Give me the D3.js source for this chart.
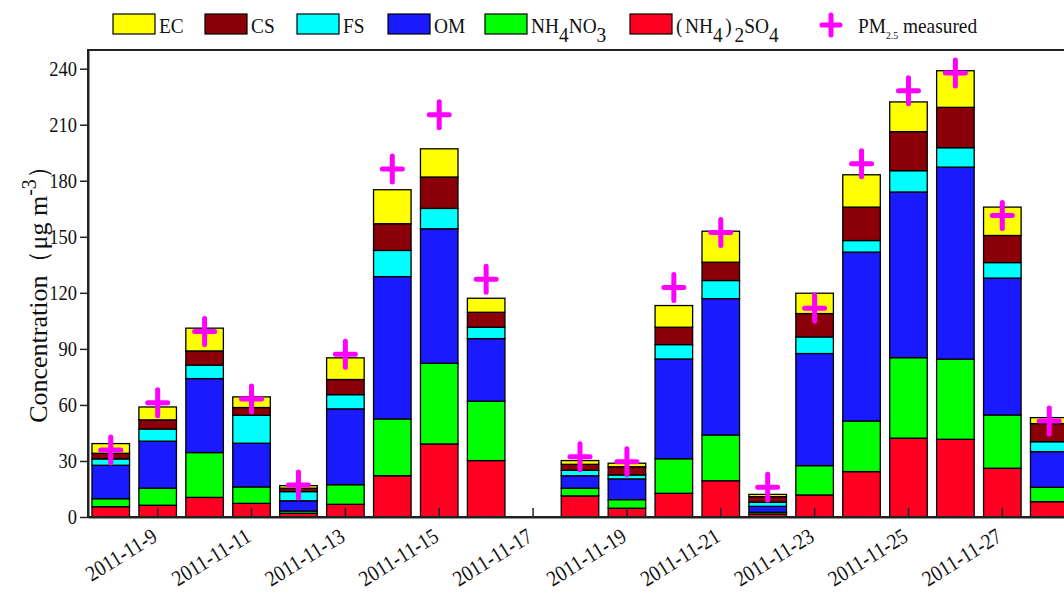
<!DOCTYPE html>
<html>
<head>
<meta charset="utf-8">
<script src="https://cdn.jsdelivr.net/npm/d3@7"></script>
<style>
  html, body { margin: 0; padding: 0; background: #fff; }
  svg { display: block; font-family: "Liberation Serif", "DejaVu Serif", serif; }
</style>
</head>
<body>
<script>
// ---------------- DATA ----------------
const dates = ["2011-11-8","2011-11-9","2011-11-10","2011-11-11","2011-11-12","2011-11-13","2011-11-14",
  "2011-11-15","2011-11-16","2011-11-17","2011-11-18","2011-11-19","2011-11-20","2011-11-21",
  "2011-11-22","2011-11-23","2011-11-24","2011-11-25","2011-11-26","2011-11-27","2011-11-28"];
const tickDates = ["2011-11-9","2011-11-11","2011-11-13","2011-11-15","2011-11-17","2011-11-19",
  "2011-11-21","2011-11-23","2011-11-25","2011-11-27"];
const yTicks = [0, 30, 60, 90, 120, 150, 180, 210, 240];

// component concentrations (µg m-3), bottom to top
const so4   = [5.5, 6.3, 10.5, 7.3, 2.0, 6.8, 22.1, 39.1, 30.2, 0, 11.3, 4.7, 12.7, 19.4, 1.6, 11.8, 24.3, 42.2, 41.6, 26.1, 8.2];
const nh4no3= [4.3, 9.1, 24.0, 8.8, 1.2, 10.5, 30.4, 43.2, 31.8, 0, 4.1, 4.6, 18.5, 24.5, 0.9, 15.7, 27.1, 43.1, 42.9, 28.5, 7.7];
const om    = [17.9, 25.2, 39.6, 23.4, 5.5, 40.6, 76.2, 72.0, 33.5, 0, 6.7, 11.1, 53.4, 73.0, 3.2, 60.0, 90.4, 88.7, 102.8, 73.3, 19.1];
const fs    = [3.4, 6.5, 7.2, 15.0, 4.9, 7.6, 14.0, 10.9, 6.1, 0, 2.9, 2.1, 7.7, 9.7, 2.2, 8.9, 6.2, 11.4, 10.4, 8.3, 5.3];
const cs    = [3.0, 4.9, 7.6, 4.1, 1.8, 8.1, 14.3, 16.8, 8.0, 0, 3.2, 4.4, 9.3, 9.8, 3.0, 12.5, 17.9, 20.9, 21.6, 14.5, 9.7];
const ec    = [5.2, 6.9, 12.2, 5.7, 1.4, 11.6, 18.2, 15.1, 7.5, 0, 2.0, 1.9, 11.6, 16.6, 1.2, 10.9, 17.3, 15.9, 19.6, 15.2, 3.2];
const pmMeasured = [35.9, 61.2, 99.3, 63.2, 17.1, 87.1, 186.3, 215.4, 127.3, null, 32.3, 29.6, 122.8, 152.3, 15.9, 111.8, 189.1, 228.2, 237.7, 161.4, 51.4];

const seriesKeys = ["so4", "nh4no3", "om", "fs", "cs", "ec"];
const seriesColors = { so4: "#ff0022", nh4no3: "#00ff00", om: "#1a1aff", fs: "#00ffff", cs: "#8b0008", ec: "#ffff00" };

// ---------------- LAYOUT ----------------
const W = 1064, H = 597;
const plotL = 88, plotR = 1072, plotT = 50, plotB = 517;
const FONT = "Liberation Serif, DejaVu Serif, serif";
const SQUEEZE = 0.88; // the original typeface is narrow

const svg = d3.select("body").append("svg").attr("width", W).attr("height", H);

const table = dates.map((d, i) => ({ date: d, so4: so4[i], nh4no3: nh4no3[i], om: om[i], fs: fs[i], cs: cs[i], ec: ec[i], pm: pmMeasured[i] }));
const stacked = d3.stack().keys(seriesKeys)(table);

const x = d3.scaleBand().domain(dates).range([plotL, plotR]).paddingInner(0.2).paddingOuter(0.085);
const y = d3.scaleLinear().domain([0, 250]).range([plotB, plotT]);

// bars
const gBars = svg.append("g");
stacked.forEach(layer => {
  gBars.append("g").selectAll("rect")
    .data(layer.filter(d => d[1] - d[0] > 0))
    .join("rect")
    .attr("x", d => x(d.data.date))
    .attr("width", x.bandwidth())
    .attr("y", d => y(d[1]))
    .attr("height", d => y(d[0]) - y(d[1]))
    .attr("fill", seriesColors[layer.key])
    .attr("stroke", "#000")
    .attr("stroke-width", 1.3);
});

// measured PM2.5 plus markers
const plusPath = (cx, cy, hw, hh) => `M${cx - hw},${cy}H${cx + hw}M${cx},${cy - hh}V${cy + hh}`;
svg.append("g").selectAll("path")
  .data(table.filter(d => d.pm != null))
  .join("path")
  .attr("d", d => plusPath(x(d.date) + x.bandwidth() / 2, y(d.pm), 10, 13))
  .attr("stroke", "#ff00ff")
  .attr("stroke-width", 5)
  .attr("stroke-linecap", "round")
  .attr("fill", "none");

// frame
svg.append("rect").attr("x", plotL).attr("y", plotT).attr("width", plotR - plotL).attr("height", plotB - plotT)
  .attr("fill", "none").attr("stroke", "#222").attr("stroke-width", 2);

// y axis
const yAxis = svg.append("g").attr("transform", `translate(${plotL},0)`)
  .call(d3.axisLeft(y).tickValues(yTicks).tickSize(8).tickPadding(3).tickSizeOuter(0));
yAxis.attr("font-family", FONT);
yAxis.select(".domain").attr("stroke", "#222").attr("stroke-width", 2);
yAxis.selectAll(".tick line").attr("stroke", "#222").attr("stroke-width", 1.5);
yAxis.selectAll(".tick text").attr("font-size", 21).attr("fill", "#111")
  .attr("x", 0).attr("transform", `translate(-11,0) scale(${SQUEEZE},1)`);

// x axis
const xAxis = svg.append("g").attr("transform", `translate(0,${plotB})`)
  .call(d3.axisBottom(x).tickValues(tickDates).tickSize(-9).tickSizeOuter(0));
xAxis.attr("font-family", FONT);
xAxis.select(".domain").attr("stroke", "#222").attr("stroke-width", 2);
xAxis.selectAll(".tick line").attr("stroke", "#222").attr("stroke-width", 1.5);
xAxis.selectAll(".tick text")
  .attr("font-size", 22).attr("fill", "#111")
  .attr("text-anchor", "end").attr("dy", null).attr("y", null)
  .attr("transform", `translate(1,23) rotate(-32) scale(${SQUEEZE},1)`);

// y title
const yt = svg.append("text")
  .attr("transform", "translate(47,288) rotate(-90)")
  .attr("text-anchor", "middle")
  .attr("font-size", 26).attr("fill", "#111");
yt.append("tspan").text("Concentration（μg m");
yt.append("tspan").attr("dy", -11).attr("font-size", 20).text("-3");
yt.append("tspan").attr("dy", 11).text("）");

// legend
const legend = svg.append("g").attr("font-size", 22).attr("fill", "#111");
const legendItems = [
  { key: "ec", x: 113, parts: [["EC", 0, 0]] },
  { key: "cs", x: 205, parts: [["CS", 0, 0]] },
  { key: "fs", x: 297, parts: [["FS", 0, 0]] },
  { key: "om", x: 388, parts: [["OM", 0, 0]] },
  { key: "nh4no3", x: 485, parts: [["NH", 0, 0], ["4", 1, 0], ["NO", 0, 0], ["3", 1, 0]] },
  { key: "so4", x: 630, parts: [["(", 0, 0], ["NH", 0, 3], ["4", 1, 0], [")", 0, 3], ["2", 1, 3], ["SO", 0, 0], ["4", 1, 0]] }
];
legendItems.forEach(it => {
  legend.append("rect").attr("x", it.x).attr("y", 14).attr("width", 42).attr("height", 20)
    .attr("fill", seriesColors[it.key]).attr("stroke", "#000").attr("stroke-width", 1.2);
  const t = legend.append("text").attr("transform", `translate(${it.x + 46},33) scale(${SQUEEZE},1)`);
  let prevSub = 0;
  it.parts.forEach(([s, sub, gap]) => {
    t.append("tspan").attr("dx", gap).attr("dy", (sub - prevSub) * 9).text(s);
    prevSub = sub;
  });
});
legend.append("path").attr("d", plusPath(831, 25, 9, 10))
  .attr("stroke", "#ff00ff").attr("stroke-width", 5).attr("stroke-linecap", "round").attr("fill", "none");
const pmT = legend.append("text").attr("transform", `translate(858,33) scale(${SQUEEZE},1)`);
pmT.append("tspan").text("PM");
pmT.append("tspan").attr("dy", 6).attr("font-size", 11).text("2.5");
pmT.append("tspan").attr("dy", -6).text(" measured");
</script>
</body>
</html>
